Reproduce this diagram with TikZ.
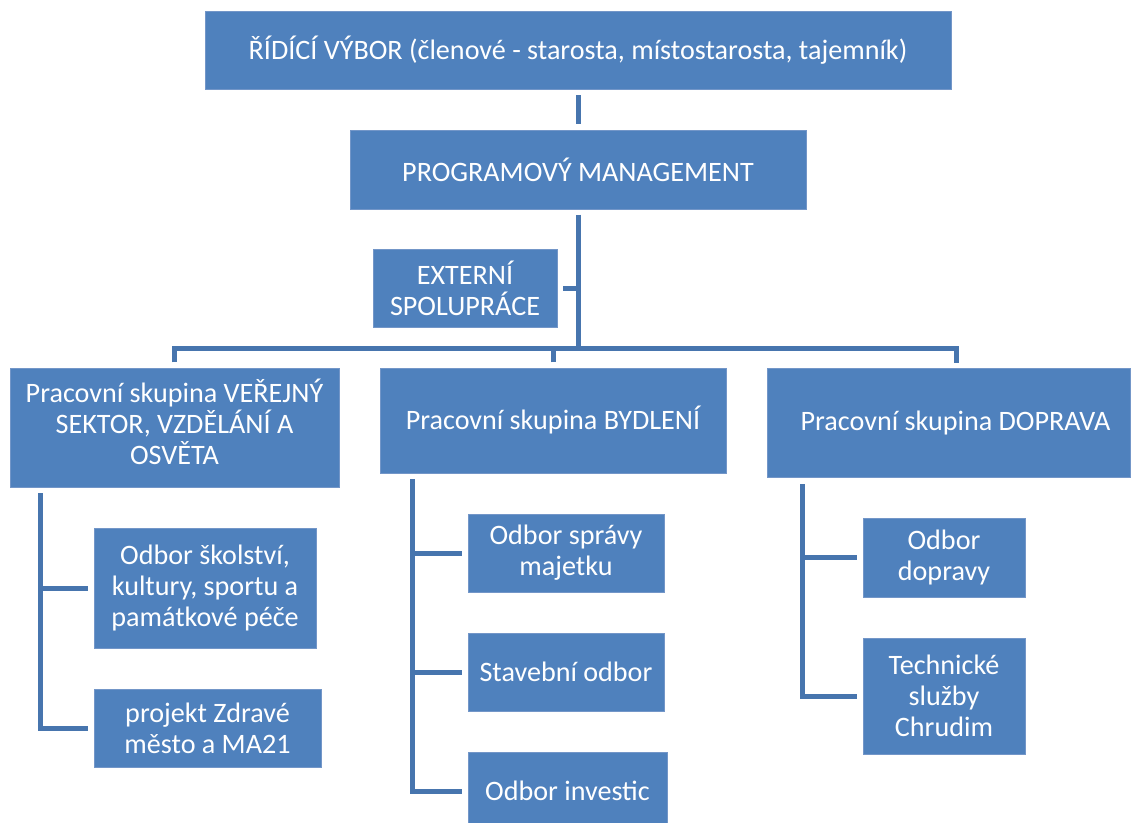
\documentclass[tikz,border=0pt]{standalone}
\usepackage{fontspec}
\setmainfont{Carlito}
\definecolor{boxfill}{HTML}{4F81BD}
\definecolor{boxedge}{HTML}{7396C8}
\definecolor{lineblue}{HTML}{4775AE}
\begin{document}
\begin{tikzpicture}[x=0.75pt,y=-0.75pt,
  box/.style={rectangle,fill=boxfill,draw=boxedge,line width=0.6pt,text=white,
    align=center,inner sep=0pt,font=\fontsize{21.1}{23.4}\selectfont},
  conn/.style={draw=lineblue,line width=3.75pt,line cap=butt,line join=miter}]
\clip (0,0) rectangle (1134,822);
\useasboundingbox (0,0) rectangle (1134,822);
\node[box,minimum width=559.5pt,minimum height=58.5pt] (top) at (578,50) {ŘÍDÍCÍ VÝBOR (členové - starosta, místostarosta, tajemník)};
\node[box,minimum width=342pt,minimum height=59.25pt] (pm) at (578,169.5) {PROGRAMOVÝ MANAGEMENT};
\node[box,minimum width=138pt,minimum height=58.5pt] (ext) at (465,288) {EXTERNÍ\\SPOLUPRÁCE};
\node[box,minimum width=246.75pt,minimum height=89.25pt] (g1) at (174.5,427.5) {Pracovní skupina VEŘEJNÝ\\SEKTOR, VZDĚLÁNÍ A\\OSVĚTA\\[-14.4pt]};
\node[box,minimum width=259.5pt,minimum height=78.75pt] (g2) at (553,420.5) {Pracovní skupina BYDLENÍ};
\node[box,minimum width=272.25pt,minimum height=81.75pt] (g3) at (948.5,422.5) {\hspace*{10.5pt}Pracovní skupina DOPRAVA};
\node[box,minimum width=166.5pt,minimum height=90pt] (s11) at (205,588) {Odbor školství,\\kultury, sportu a\\památkové péče};
\node[box,minimum width=170.25pt,minimum height=58.5pt] (s12) at (207.5,728) {projekt Zdravé\\město a MA21};
\node[box,minimum width=147pt,minimum height=58.5pt] (s21) at (566,553) {Odbor správy\\majetku};
\node[box,minimum width=147pt,minimum height=58.5pt] (s22) at (566,672) {Stavební odbor};
\node[box,minimum width=149.25pt,minimum height=58.5pt] (s23) at (567.5,791) {Odbor investic};
\node[box,minimum width=121.5pt,minimum height=59.25pt] (s31) at (944,557.5) {Odbor\\dopravy};
\node[box,minimum width=121.5pt,minimum height=87pt] (s32) at (944,696) {Technické\\služby\\Chrudim};
% top connectors
\draw[conn] ([yshift=-4.5pt]top.south) -- ([yshift=4.5pt]pm.north);
\coordinate (bar) at (578,348);
\coordinate (d3) at (956,363);
\draw[conn] ([yshift=-4pt]pm.south) -- (bar);
\draw[conn] ([xshift=4.5pt]ext.east) -- (ext.east -| bar);
\draw[conn] ([yshift=4pt]g1.north) |- (bar) -| (d3);
\draw[conn] ([yshift=4pt]g2.north) -- (g2.north |- bar);
% left tree
\coordinate (t1) at (40.5,493);
\draw[conn] (t1) |- ([xshift=-4.5pt]s12.west);
\draw[conn] (t1 |- s11.west) -- ([xshift=-4.5pt]s11.west);
% middle tree
\coordinate (t2) at (412,479);
\draw[conn] (t2) |- ([xshift=-4.5pt]s23.west);
\draw[conn] (t2 |- s21.west) -- ([xshift=-4.5pt]s21.west);
\draw[conn] (t2 |- s22.west) -- ([xshift=-4.5pt]s22.west);
% right tree
\coordinate (t3) at (802,484);
\draw[conn] (t3) |- ([xshift=-4.5pt]s32.west);
\draw[conn] (t3 |- s31.west) -- ([xshift=-4.5pt]s31.west);
\end{tikzpicture}
\end{document}
